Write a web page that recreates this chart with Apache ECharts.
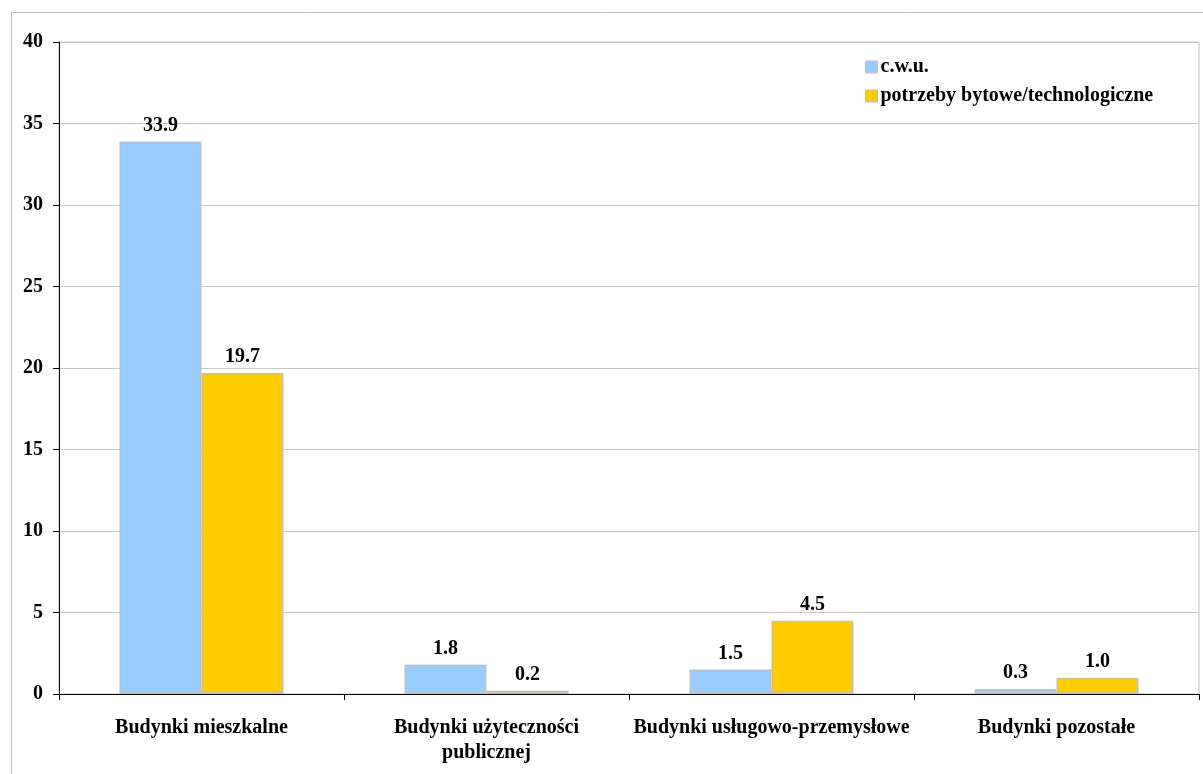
<!DOCTYPE html>
<html>
<head>
<meta charset="utf-8">
<script src="https://cdn.jsdelivr.net/npm/echarts@6/dist/echarts.min.js"></script>
<style>
  html, body { margin: 0; padding: 0; background: #ffffff; }
  #chart { width: 1203px; height: 774px; }
</style>
</head>
<body>
<div id="chart"></div>
<script>
// Building categories on the x axis
const categories = [
  'Budynki mieszkalne',
  'Budynki użyteczności\npublicznej',
  'Budynki usługowo-przemysłowe',
  'Budynki pozostałe'
];
// Series names
const seriesNames = ['c.w.u.', 'potrzeby bytowe/technologiczne'];
// Values per category
const cwuValues = [33.9, 1.8, 1.5, 0.3];
const bytoweValues = [19.7, 0.2, 4.5, 1.0];
// Y axis range
const yMin = 0, yMax = 40, yStep = 5;

const FONT = '"Liberation Serif", "Times New Roman", serif';
const colors = ['#99ccff', '#ffcc00'];

const chart = echarts.init(document.getElementById('chart'), null, { renderer: 'canvas' });

function barSeries(name, data, color) {
  return {
    name: name,
    type: 'bar',
    data: data,
    barWidth: 82,
    barGap: '0%',
    itemStyle: { color: color, borderColor: '#c0c0c0', borderWidth: 1.5 },
    label: {
      show: true,
      position: 'top',
      distance: 6,
      formatter: p => p.value.toFixed(1),
      fontFamily: FONT,
      fontWeight: 'bold',
      fontSize: 20,
      color: '#000'
    }
  };
}

chart.setOption({
  animation: false,
  backgroundColor: '#ffffff',
  graphic: [{
    type: 'rect',
    left: 9,
    top: 10,
    shape: { width: 1200, height: 800 },
    style: { fill: 'none', stroke: '#c0c0c0', lineWidth: 1 },
    silent: true,
    z: -1
  }],
  grid: {
    left: 59, right: 4, top: 42, bottom: 80,
    show: true, borderColor: '#c0c0c0', borderWidth: 1,
    containLabel: false
  },
  legend: {
    orient: 'vertical',
    left: 860,
    top: 52,
    icon: 'rect',
    itemWidth: 12,
    itemHeight: 12,
    itemGap: 9,
    data: seriesNames,
    itemStyle: { borderColor: '#c0c0c0', borderWidth: 1 },
    textStyle: { fontFamily: FONT, fontWeight: 'bold', fontSize: 20, color: '#000', padding: [0, 0, 0, -2] }
  },
  xAxis: {
    type: 'category',
    data: categories,
    axisLine: { lineStyle: { color: '#000', width: 1 } },
    axisTick: { show: true, length: 6, lineStyle: { color: '#000' } },
    axisLabel: {
      interval: 0,
      margin: 21,
      fontFamily: FONT,
      fontWeight: 'bold',
      fontSize: 20,
      lineHeight: 25,
      color: '#000'
    }
  },
  yAxis: {
    type: 'value',
    min: yMin, max: yMax, interval: yStep,
    axisLine: { show: true, lineStyle: { color: '#000', width: 1 } },
    axisTick: { show: true, length: 6, lineStyle: { color: '#000' } },
    splitLine: { show: true, lineStyle: { color: '#c8c8c8', width: 1 } },
    axisLabel: {
      margin: 16,
      fontFamily: FONT,
      fontWeight: 'bold',
      fontSize: 20,
      color: '#000'
    }
  },
  series: [
    barSeries(seriesNames[0], cwuValues, colors[0]),
    barSeries(seriesNames[1], bytoweValues, colors[1])
  ]
});
</script>
</body>
</html>
